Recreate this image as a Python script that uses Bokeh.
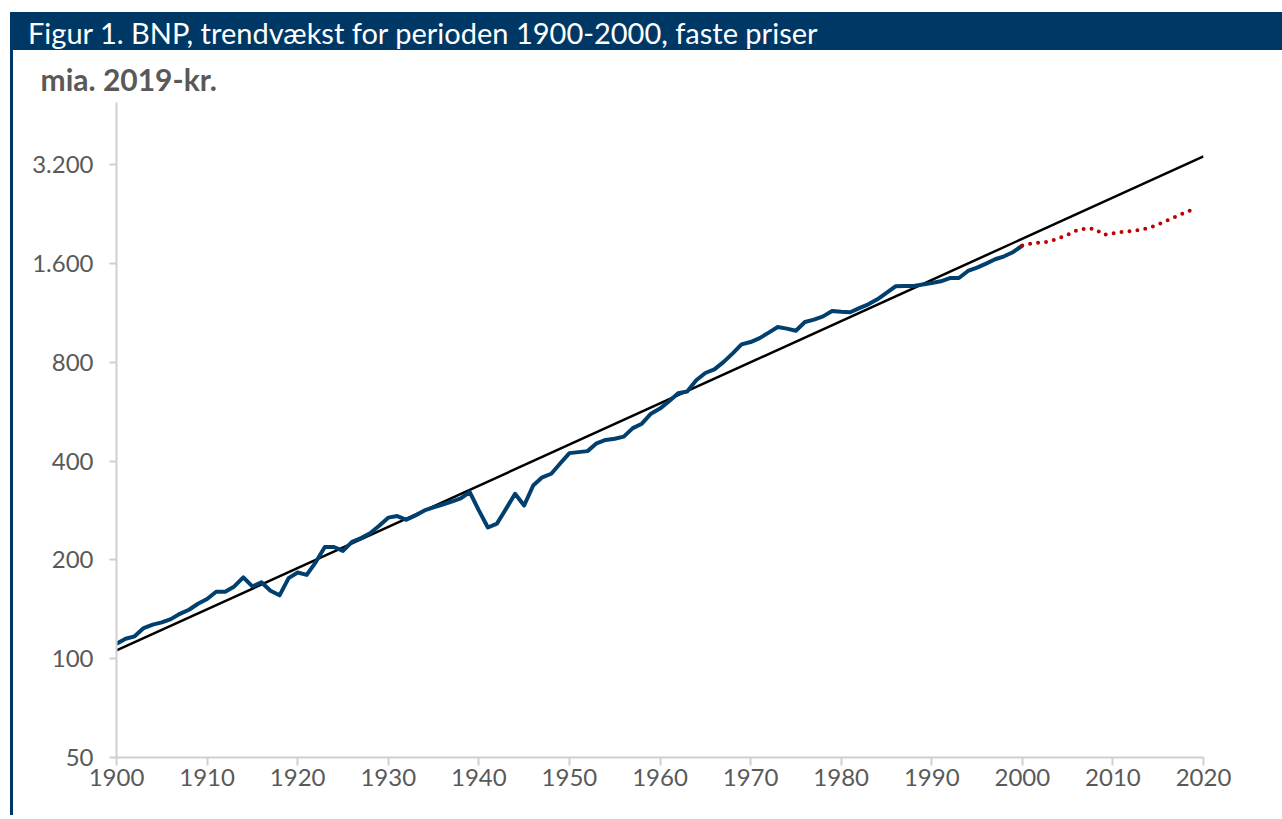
from bokeh.plotting import figure
from bokeh.models import Range1d, FixedTicker, Div, Title
from bokeh.layouts import column, row
from bokeh.embed import file_html
from bokeh.resources import INLINE

# ---------------- data ----------------
years_hist = list(range(1900, 2001))
gdp_hist = [
    111, 115, 117, 124, 127, 129, 132, 137, 141, 147,   # 1900-1909
    152, 160, 160, 166, 177, 166, 171, 161, 156, 176,   # 1910-1919
    183, 180, 197, 219, 219, 213, 227, 233, 241, 254,   # 1920-1929
    269, 272, 265, 273, 283, 289, 295, 301, 308, 322,   # 1930-1939
    283, 251, 258, 286, 318, 293, 337, 357, 366, 394,   # 1940-1949
    423, 426, 429, 453, 464, 468, 475, 504, 520, 558,   # 1950-1959
    578, 609, 644, 652, 705, 742, 761, 801, 850, 907,   # 1960-1969
    922, 948, 985, 1025, 1013, 998, 1061, 1079, 1104, 1146,  # 1970-1979
    1140, 1136, 1170, 1201, 1244, 1301, 1363, 1366, 1366, 1380,  # 1980-1989
    1396, 1412, 1445, 1445, 1518, 1554, 1598, 1648, 1683, 1735,  # 1990-1999
    1815,  # 2000
]
years_recent = list(range(2000, 2020))
gdp_recent = [1815, 1841, 1852, 1867, 1907, 1957, 2018, 2046, 2039, 1955,
              1976, 1997, 2007, 2024, 2056, 2104, 2164, 2226, 2289, 2349]
trend_years = [1900, 2020]
trend_values = [106, 3390]

x_ticks = list(range(1900, 2021, 10))
y_ticks = [50, 100, 200, 400, 800, 1600, 3200]
y_tick_labels = ["50", "100", "200", "400", "800", "1.600", "3.200"]

title_text = "Figur 1. BNP, trendvækst for perioden 1900-2000, faste priser"
unit_text = "mia. 2019-kr."

# ---------------- style ----------------
FONT = "Lato"
NAVY = "#003865"
LINE_BLUE = "#003f6e"
RED = "#c00000"
GREY_TXT = "#595959"
AXIS_GREY = "#d0d0d0"

p = figure(width=1269, height=753, y_axis_type="log",
           x_range=Range1d(1900, 2020), y_range=Range1d(50, 4950),
           output_backend="svg", toolbar_location=None,
           min_border_left=103, min_border_right=79,
           min_border_top=52, min_border_bottom=46)
p.outline_line_color = None
p.grid.visible = False
p.background_fill_color = "white"
p.border_fill_color = "white"

p.line(trend_years, trend_values, line_color="black", line_width=2.5)
p.line(years_hist, gdp_hist, line_color=LINE_BLUE, line_width=4, line_join="round")
p.line(years_recent, gdp_recent, line_color=RED, line_width=4,
       line_dash="0 8", line_cap="round")

xa = p.xaxis[0]
xa.ticker = FixedTicker(ticks=x_ticks)
ya = p.yaxis[0]
ya.ticker = FixedTicker(ticks=y_ticks)
ya.major_label_overrides = {t: l for t, l in zip(y_ticks, y_tick_labels)}

for ax in (xa, ya):
    ax.axis_line_color = AXIS_GREY
    ax.axis_line_width = 2
    ax.major_tick_line_color = AXIS_GREY
    ax.major_tick_line_width = 2
    ax.major_tick_in = 0
    ax.minor_tick_line_color = None
    ax.major_label_text_font = FONT
    ax.major_label_text_font_size = "24px"
    ax.major_label_text_color = GREY_TXT
xa.major_tick_out = 8
xa.major_label_standoff = 3
ya.major_tick_out = 7
ya.major_label_standoff = 16

p.add_layout(Title(text=unit_text, align="left", offset=-76, standoff=11,
                   text_font=FONT, text_font_style="bold", text_font_size="30px",
                   text_color=GREY_TXT), "above")

header = Div(text='<div style="padding-left:18px; line-height:38px; white-space:nowrap;">'
                  + title_text + '</div>',
             width=1272, height=38, margin=(12, 0, 0, 10),
             styles={"background-color": NAVY, "color": "white",
                     "font-family": FONT, "font-size": "29px",
                     "overflow": "hidden"})
leftbar = Div(text="", width=3, height=765, margin=(0, 0, 0, 10),
              styles={"background-color": NAVY})

layout = column(header, row(leftbar, p, spacing=0), spacing=0)

open("out.html", "w").write(file_html(layout, INLINE))
